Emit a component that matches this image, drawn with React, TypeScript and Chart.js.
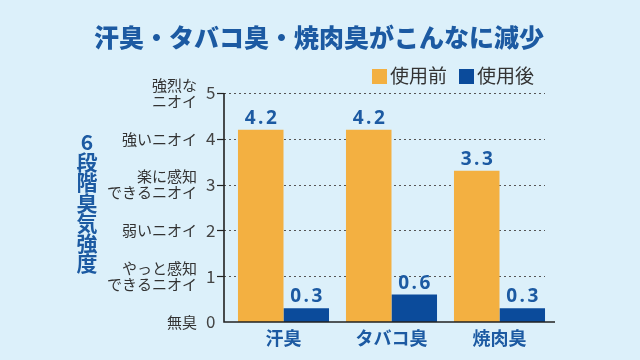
import { useEffect, useRef } from "react";
import { Chart, registerables } from "chart.js";

Chart.register(...registerables);

const titleText = "汗臭・タバコ臭・焼肉臭がこんなに減少";
const axisTitle = ["6", "段", "階", "臭", "気", "強", "度"];
const categories = ["汗臭", "タバコ臭", "焼肉臭"];
const seriesNames = ["使用前", "使用後"];
const beforeValues = [4.2, 4.2, 3.3];
const afterValues = [0.3, 0.6, 0.3];
const yTicks = [0, 1, 2, 3, 4, 5];
const levelLabels = [
  ["無臭"],
  ["やっと感知", "できるニオイ"],
  ["弱いニオイ"],
  ["楽に感知", "できるニオイ"],
  ["強いニオイ"],
  ["強烈な", "ニオイ"],
];

const ORANGE = "#f3b041";
const BLUE = "#0b4b9b";
const TEXT_BLUE = "#1c5aa2";
const GRAY = "#333333";
const JP = '"Noto Sans CJK JP", "Noto Sans", sans-serif';

const decorPlugin = {
  id: "decor",
  beforeDatasetsDraw(chart: any) {
    const { ctx, chartArea } = chart;
    const y = chart.scales.y;
    const axisX = chartArea.left - 5.5;
    const gridRight = chartArea.right - 8.5;
    ctx.save();
    ctx.strokeStyle = "#555";
    ctx.lineWidth = 1;
    ctx.setLineDash([2, 3]);
    yTicks.forEach((v) => {
      if (v === 0) return;
      const py = Math.round(y.getPixelForValue(v)) + 0.5;
      ctx.beginPath();
      ctx.moveTo(axisX, py);
      ctx.lineTo(gridRight, py);
      ctx.stroke();
    });
    ctx.restore();
  },
  afterDatasetsDraw(chart: any) {
    const { ctx, chartArea } = chart;
    const y = chart.scales.y;
    const axisX = Math.round(chartArea.left - 5.5);
    const bottom = Math.round(y.getPixelForValue(0));
    const top = Math.round(y.getPixelForValue(5));
    ctx.save();
    ctx.strokeStyle = "#222";
    ctx.lineWidth = 1.6;
    ctx.beginPath();
    ctx.moveTo(axisX, top);
    ctx.lineTo(axisX, bottom);
    ctx.lineTo(chartArea.right + 1.5, bottom);
    ctx.stroke();
    ctx.lineWidth = 1.2;
    yTicks.forEach((v) => {
      if (v === 0) return;
      const py = Math.round(y.getPixelForValue(v)) + 0.5;
      ctx.beginPath();
      ctx.moveTo(axisX - 7, py);
      ctx.lineTo(axisX, py);
      ctx.stroke();
    });
    // value labels
    ctx.fillStyle = TEXT_BLUE;
    ctx.font = 'bold 19px "Open Sans", "DejaVu Sans", sans-serif';
    ctx.textAlign = "center";
    ctx.textBaseline = "alphabetic";
    (ctx as any).letterSpacing = "2.5px";
    chart.data.datasets.forEach((ds: any, di: number) => {
      const meta = chart.getDatasetMeta(di);
      meta.data.forEach((el: any, i: number) => {
        ctx.fillText(ds.data[i].toFixed(1), el.x + 1.25, el.y - 6);
      });
    });
    (ctx as any).letterSpacing = "0px";
    ctx.restore();
  },
  afterDraw(chart: any) {
    const { ctx } = chart;
    const y = chart.scales.y;
    ctx.save();
    // title
    ctx.fillStyle = TEXT_BLUE;
    ctx.font = `900 25px ${JP}`;
    ctx.textAlign = "center";
    ctx.textBaseline = "middle";
    ctx.fillText(titleText, 319, 37);
    // legend
    const colors = [ORANGE, BLUE];
    const legendX = [372, 459];
    ctx.font = `19px ${JP}`;
    ctx.textAlign = "left";
    seriesNames.forEach((name, i) => {
      ctx.fillStyle = colors[i];
      ctx.fillRect(legendX[i], 69, 15, 15);
      ctx.fillStyle = GRAY;
      ctx.fillText(name, legendX[i] + 18, 76);
    });
    // level labels
    ctx.font = `15px ${JP}`;
    ctx.textAlign = "right";
    ctx.fillStyle = GRAY;
    levelLabels.forEach((lines, v) => {
      const py = y.getPixelForValue(v);
      const lh = 16;
      const start = py - ((lines.length - 1) * lh) / 2;
      lines.forEach((t, k) => ctx.fillText(t, 197, start + k * lh));
    });
    // vertical axis title
    ctx.fillStyle = TEXT_BLUE;
    ctx.font = `bold 21px ${JP}`;
    ctx.textAlign = "center";
    axisTitle.forEach((ch, k) => ctx.fillText(ch, 87, 142 + k * 20.2));
    ctx.restore();
  },
};

export default function App() {
  const ref = useRef<HTMLCanvasElement | null>(null);
  useEffect(() => {
    if (!ref.current) return;
    const chart = new Chart(ref.current, {
      type: "bar",
      data: {
        labels: categories,
        datasets: [
          { label: seriesNames[0], data: beforeValues, backgroundColor: ORANGE, borderWidth: 0 },
          { label: seriesNames[1], data: afterValues, backgroundColor: BLUE, borderWidth: 0 },
        ],
      },
      options: {
        responsive: false,
        animation: false,
        layout: { padding: { left: 0, right: 86.5, top: 93, bottom: 0 } },
        datasets: { bar: { categoryPercentage: 0.843, barPercentage: 1 } },
        plugins: { legend: { display: false }, title: { display: false }, tooltip: { enabled: false } },
        scales: {
          x: {
            grid: { display: false, drawTicks: false },
            border: { display: false },
            ticks: { color: TEXT_BLUE, font: { family: JP, size: 18, weight: "bold" }, padding: 5 },
            afterFit: (s: any) => { s.height = 38; },
          },
          y: {
            min: 0,
            max: 5,
            grid: { display: false, drawTicks: false },
            border: { display: false },
            ticks: {
              stepSize: 1,
              color: "#444",
              padding: 14,
              font: { family: JP, size: 17 },
            },
            afterFit: (s: any) => { s.width = 229.5; },
          },
        },
      },
      plugins: [decorPlugin],
    });
    return () => chart.destroy();
  }, []);
  return (
    <div style={{ position: "absolute", left: 0, top: 0, width: 640, height: 360, background: "#dcf0fa" }}>
      <canvas ref={ref} width={640} height={360} style={{ display: "block" }} />
    </div>
  );
}
